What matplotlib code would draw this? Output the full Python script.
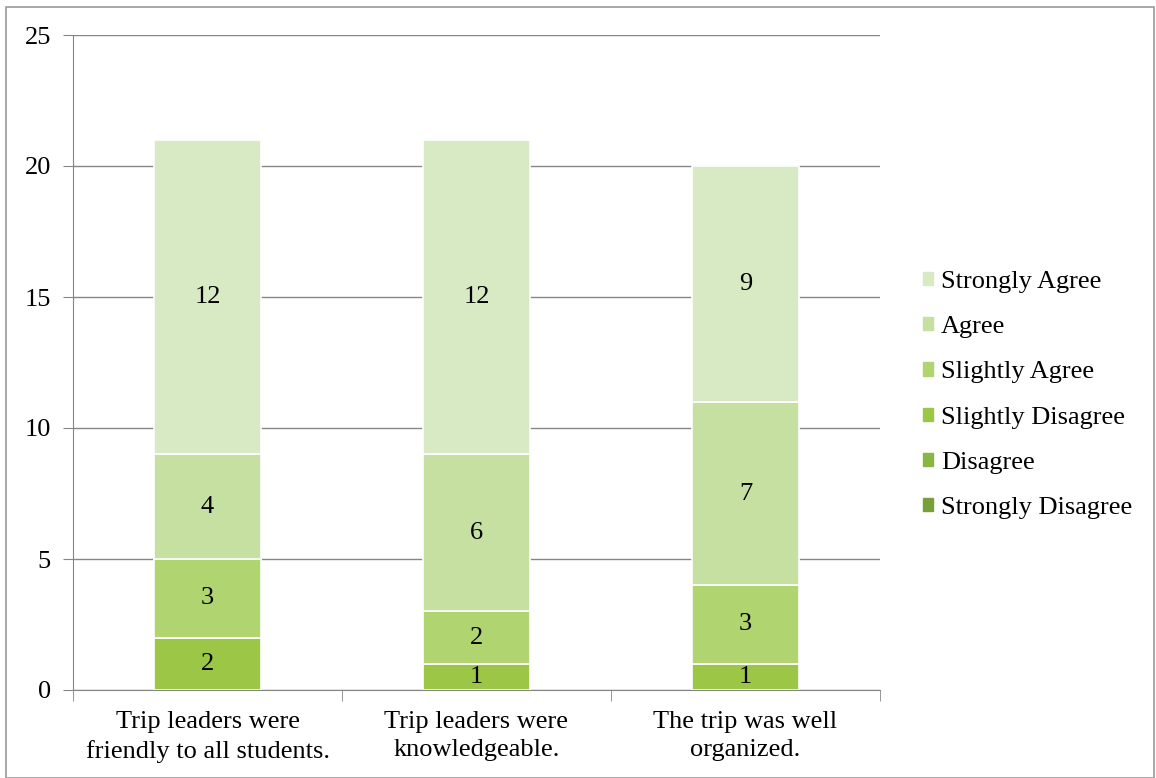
import numpy as np
import matplotlib.pyplot as plt
from matplotlib.patches import Rectangle

plt.rcParams['font.family'] = ['Liberation Serif', 'DejaVu Serif']

# ---------------- Data ----------------

questions = ["Trip leaders were\nfriendly to all students.",
             "Trip leaders were\nknowledgeable.",
             "The trip was well\norganized."]
levels = ["Strongly Disagree", "Disagree", "Slightly Disagree",
          "Slightly Agree", "Agree", "Strongly Agree"]
strongly_disagree = [0, 0, 0]
disagree = [0, 0, 0]
slightly_disagree = [2, 1, 1]
slightly_agree = [3, 2, 3]
agree = [4, 6, 7]
strongly_agree = [12, 12, 9]
colors = ["#77A03A", "#8BB542", "#9BC646", "#AFD470", "#C5E0A0", "#D8EAC4"]

series = [strongly_disagree, disagree, slightly_disagree,
          slightly_agree, agree, strongly_agree]

FS = 19

# ---------------- Plot ----------------

fig = plt.figure(figsize=(11.56, 7.78), dpi=100)
ax = fig.add_axes([73 / 1156, 1 - 690 / 778, (880 - 73) / 1156, (690 - 35) / 778])

x = np.arange(len(questions))
bottom = np.zeros(len(questions))
handles = []
for name, vals, col in zip(levels, series, colors):
    vals = np.array(vals, dtype=float)
    ax.bar(x, vals, width=0.4, bottom=bottom, color=col,
           edgecolor="white", linewidth=1.2 if vals.any() else 0, zorder=2)
    for xi, b, v in zip(x, bottom, vals):
        if v > 0:
            ax.text(xi, b + v / 2, f"{int(v)}", ha="center", va="center",
                    fontsize=FS, zorder=3)
    bottom += vals
    handles.append(Rectangle((0, 0), 1, 1, color=col))

ax.set_xlim(-0.5, 2.5)
ax.set_ylim(0, 25)
ax.set_yticks(range(0, 26, 5))
ax.yaxis.grid(True, color="#868686", linewidth=1)
ax.set_axisbelow(True)
ax.tick_params(axis="y", length=7, color="#868686", labelsize=FS, pad=9)

ax.set_xticks(x)
ax.set_xticklabels(questions, fontsize=FS, linespacing=1.38)
ax.tick_params(axis="x", length=0, pad=15)
ax.set_xticks([-0.5, 0.5, 1.5, 2.5], minor=True)
ax.tick_params(axis="x", which="minor", length=8, color="#868686")

for s in ["top", "right"]:
    ax.spines[s].set_visible(False)
for s in ["left", "bottom"]:
    ax.spines[s].set_color("#868686")

fig.legend(handles[::-1], levels[::-1], loc="center left",
           bbox_to_anchor=(899 / 1156, 1 - 395 / 778), frameon=False,
           fontsize=FS, handlelength=0.4, handleheight=0.4,
           handletextpad=0.3, labelspacing=0.88)

fig.patches.append(Rectangle((6 / 1156, 0.5 / 778), 1148 / 1156, 771 / 778,
                             transform=fig.transFigure, fill=False,
                             edgecolor="#9a9a9a", linewidth=1.2))

plt.savefig("out.png", dpi=100)
